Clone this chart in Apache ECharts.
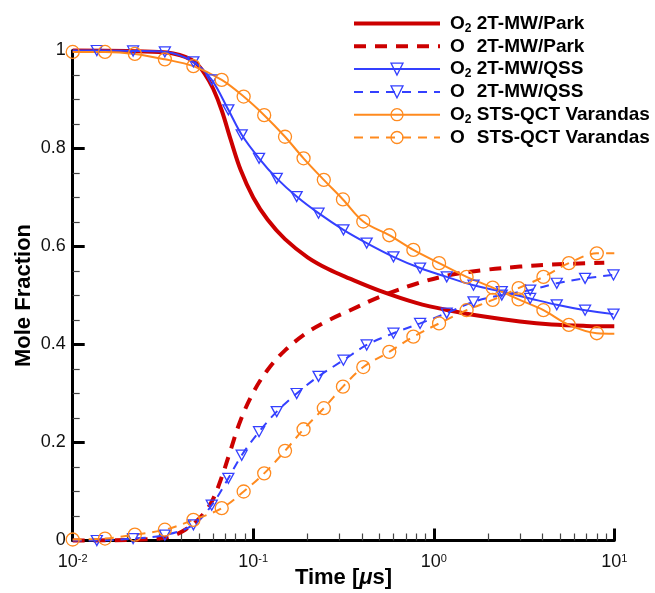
<!DOCTYPE html>
<html><head><meta charset="utf-8">
<script src="https://cdn.jsdelivr.net/npm/echarts@6/dist/echarts.min.js"></script>
<style>html,body{margin:0;padding:0;background:#fff}#c{width:655px;height:593px}</style>
</head><body><div id="c"></div>
<script>
// ---- data ----
const seriesNames = ['O2 2T-MW/Park', 'O 2T-MW/Park', 'O2 2T-MW/QSS', 'O 2T-MW/QSS', 'O2 STS-QCT Varandas', 'O STS-QCT Varandas'];
const xMajorTicks = [0.01, 0.1, 1, 10];
const xMinorTicks = [0.02,0.03,0.04,0.05,0.06,0.07,0.08,0.09,0.2,0.3,0.4,0.5,0.6,0.7,0.8,0.9,2,3,4,5,6,7,8,9];
const yTickLabels = ['0', '0.2', '0.4', '0.6', '0.8', '1'];

const parkO2Time = [0.01, 0.02, 0.03, 0.036, 0.042, 0.048, 0.054, 0.06, 0.067, 0.075, 0.085, 0.1, 0.12, 0.15, 0.2, 0.26, 0.34, 0.5, 0.8, 1.2, 1.9, 3, 4.5, 7, 10];
const parkO2 = [1.0, 0.999, 0.997, 0.994, 0.987, 0.975, 0.952, 0.922, 0.877, 0.818, 0.757, 0.700, 0.655, 0.615, 0.578, 0.554, 0.535, 0.510, 0.485, 0.470, 0.457, 0.447, 0.441, 0.438, 0.437];
const parkOTime = [0.01, 0.02, 0.03, 0.036, 0.042, 0.048, 0.054, 0.06, 0.067, 0.075, 0.085, 0.1, 0.12, 0.15, 0.2, 0.26, 0.34, 0.5, 0.8, 1.2, 1.9, 3, 4.5, 8.8];
const parkO = [0.0, 0.001, 0.004, 0.010, 0.022, 0.038, 0.058, 0.085, 0.130, 0.185, 0.245, 0.302, 0.348, 0.388, 0.425, 0.449, 0.469, 0.497, 0.524, 0.541, 0.552, 0.559, 0.563, 0.567];

const qssTime = [0.01, 0.0136, 0.0216, 0.0324, 0.0466, 0.0589, 0.0728, 0.0863, 0.1077, 0.135, 0.174, 0.23, 0.316, 0.425, 0.598, 0.84, 1.18, 1.66, 2.38, 3.42, 4.8, 6.89, 9.9];
const qssO2 = [1.0, 1.0, 0.999, 0.997, 0.977, 0.94, 0.879, 0.828, 0.78, 0.739, 0.702, 0.668, 0.634, 0.607, 0.579, 0.556, 0.538, 0.521, 0.508, 0.494, 0.481, 0.470, 0.462];
const qssO = [0.0, 0.0, 0.004, 0.011, 0.032, 0.072, 0.127, 0.174, 0.222, 0.263, 0.300, 0.335, 0.368, 0.399, 0.423, 0.443, 0.464, 0.487, 0.501, 0.511, 0.525, 0.535, 0.542];

const qctTime = [0.01, 0.0151, 0.0221, 0.0324, 0.0466, 0.0669, 0.0885, 0.115, 0.15, 0.19, 0.246, 0.314, 0.407, 0.567, 0.771, 1.07, 1.52, 2.12, 2.95, 4.05, 5.6, 8.0, 10];
const qctO2 = [0.997, 0.997, 0.993, 0.982, 0.968, 0.94, 0.906, 0.868, 0.824, 0.780, 0.736, 0.696, 0.651, 0.623, 0.593, 0.566, 0.538, 0.516, 0.492, 0.470, 0.440, 0.423, 0.422];
const qctO = [0.002, 0.004, 0.012, 0.022, 0.042, 0.066, 0.100, 0.137, 0.183, 0.227, 0.270, 0.314, 0.354, 0.385, 0.416, 0.443, 0.470, 0.491, 0.515, 0.538, 0.566, 0.586, 0.586];

// ---- styling ----
const RED = '#cc0000', BLUE = '#3440ff', ORANGE = '#ff8a1e';
const FONT = '"Liberation Sans", Arial, sans-serif';
const CLEAR = 'rgba(0,0,0,0)';

function pairs(ts, vs, noMarker) {
  return ts.map((t, i) => noMarker.includes(i) ? { value: [t, vs[i]], symbol: 'none' } : [t, vs[i]]);
}

const chart = echarts.init(document.getElementById('c'), null, { renderer: 'canvas' });

function lineSeries(name, data, color, width, dash, symbol, symbolSize, rotate) {
  return {
    name, type: 'line', data, clip: false, smooth: 0.35,
    symbol: symbol || 'circle', symbolSize: symbolSize || 0, symbolRotate: rotate || 0,
    showSymbol: !!symbol,
    lineStyle: { color, width, type: dash || 'solid', cap: 'butt' },
    itemStyle: { color: CLEAR, borderColor: symbol ? color : CLEAR, borderWidth: symbol ? 1.3 : 0 },
    emphasis: { disabled: true }, animation: false
  };
}

const series = [
  lineSeries(seriesNames[0], pairs(parkO2Time, parkO2, []), RED, 4, 'solid'),
  lineSeries(seriesNames[1], pairs(parkOTime, parkO, []), RED, 4, [12, 9]),
  lineSeries(seriesNames[2], pairs(qssTime, qssO2, [0]), BLUE, 2, 'solid', 'triangle', [11, 10], 180),
  lineSeries(seriesNames[3], pairs(qssTime, qssO, [0]), BLUE, 2, [9, 7], 'triangle', [11, 10], 180),
  lineSeries(seriesNames[4], pairs(qctTime, qctO2, [qctTime.length - 1]), ORANGE, 2, 'solid', 'circle', 13),
  lineSeries(seriesNames[5], pairs(qctTime, qctO, [qctTime.length - 1]), ORANGE, 2, [9, 7], 'circle', 13)
];

const legendColors = [RED, RED, BLUE, BLUE, ORANGE, ORANGE];
const legendWidths = [4, 4, 2, 2, 2, 2];
const legendDash = ['solid', [12, 9], 'solid', [9, 7], 'solid', [9, 7]];
const legendHasMarker = [false, false, true, true, true, true];

const richText = {
  o: { fontSize: 19, fontWeight: 'bold', fontFamily: FONT, color: '#000', lineHeight: 22, padding: [0, 0, 0, 5] },
  t: { fontSize: 19, fontWeight: 'bold', fontFamily: FONT, color: '#000', lineHeight: 22 },
  sub: { fontSize: 12, fontWeight: 'bold', fontFamily: FONT, color: '#000', lineHeight: 11, verticalAlign: 'bottom' },
  subh: { fontSize: 12, fontWeight: 'bold', fontFamily: FONT, color: CLEAR, lineHeight: 11, verticalAlign: 'bottom' }
};

const option = {
  backgroundColor: '#fff',
  animation: false,
  grid: { left: 72.7, right: 40.7, top: 50.5, bottom: 52.5, containLabel: false, outerBoundsMode: 'none' },
  legend: {
    orient: 'vertical', left: 347, top: 9, itemWidth: 86, itemHeight: 15, itemGap: 2.3,
    align: 'left', selectedMode: false,
    data: seriesNames.map((n, i) => ({
      name: n,
      itemStyle: { color: CLEAR, borderColor: legendHasMarker[i] ? legendColors[i] : CLEAR, borderWidth: legendHasMarker[i] ? 1.3 : 0 },
      lineStyle: { color: legendColors[i], width: legendWidths[i], type: legendDash[i] }
    })),
    formatter: function (name) {
      const isO2 = name.indexOf('O2 ') === 0;
      const rest = name.replace(/^O2? /, '');
      return '{o|O}{' + (isO2 ? 'sub' : 'subh') + '|2}{t| ' + rest + '}';
    },
    textStyle: { rich: richText }
  },
  xAxis: [{
    type: 'log', logBase: 10, min: 0.01, max: 10,
    name: '{n|Time [}{mu|μ}{n|s]}', nameLocation: 'middle', nameGap: 26.5, nameMoveOverlap: false,
    nameTextStyle: { rich: {
      n: { fontSize: 22, fontWeight: 'bold', fontFamily: FONT, color: '#000' },
      mu: { fontSize: 22, fontWeight: 'bold', fontStyle: 'italic', fontFamily: FONT, color: '#000' }
    } },
    axisLine: { show: true, onZero: false, lineStyle: { color: '#000', width: 3 } },
    axisTick: { show: true, inside: true, length: 12, lineStyle: { color: '#000', width: 3 } },
    minorTick: { show: false },
    splitLine: { show: false },
    axisLabel: {
      margin: 13,
      customValues: xMajorTicks,
      formatter: function (v) { return '{b|10}{s|' + Math.round(Math.log10(v)) + '}'; },
      rich: {
        b: { fontSize: 18, fontFamily: FONT, color: '#111', lineHeight: 18 },
        s: { fontSize: 11, fontFamily: FONT, color: '#111', lineHeight: 10, verticalAlign: 'top' }
      }
    }
  }, {
    type: 'log', logBase: 10, min: 0.01, max: 10, gridIndex: 0, position: 'bottom',
    axisLine: { show: false },
    axisTick: { show: true, inside: true, length: 7, customValues: xMinorTicks, lineStyle: { color: '#444', width: 1.2 } },
    axisLabel: { show: false },
    splitLine: { show: false }
  }],
  yAxis: {
    type: 'value', min: 0, max: 1, interval: 0.2,
    name: 'Mole Fraction', nameLocation: 'middle', nameGap: 37.5, nameMoveOverlap: false,
    nameTextStyle: { fontSize: 22, fontWeight: 'bold', fontFamily: FONT, color: '#000' },
    axisLine: { show: true, lineStyle: { color: '#000', width: 3 } },
    axisTick: { show: true, inside: true, length: 12, lineStyle: { color: '#000', width: 3 } },
    minorTick: { show: true, splitNumber: 4, length: 7, lineStyle: { color: '#444', width: 1.2 } },
    splitLine: { show: false },
    axisLabel: {
      margin: 7, fontSize: 18, fontFamily: FONT, color: '#111',
      formatter: function (v) { return yTickLabels[Math.round(v / 0.2)]; }
    }
  },
  series
};
chart.setOption(option);
</script></body></html>
